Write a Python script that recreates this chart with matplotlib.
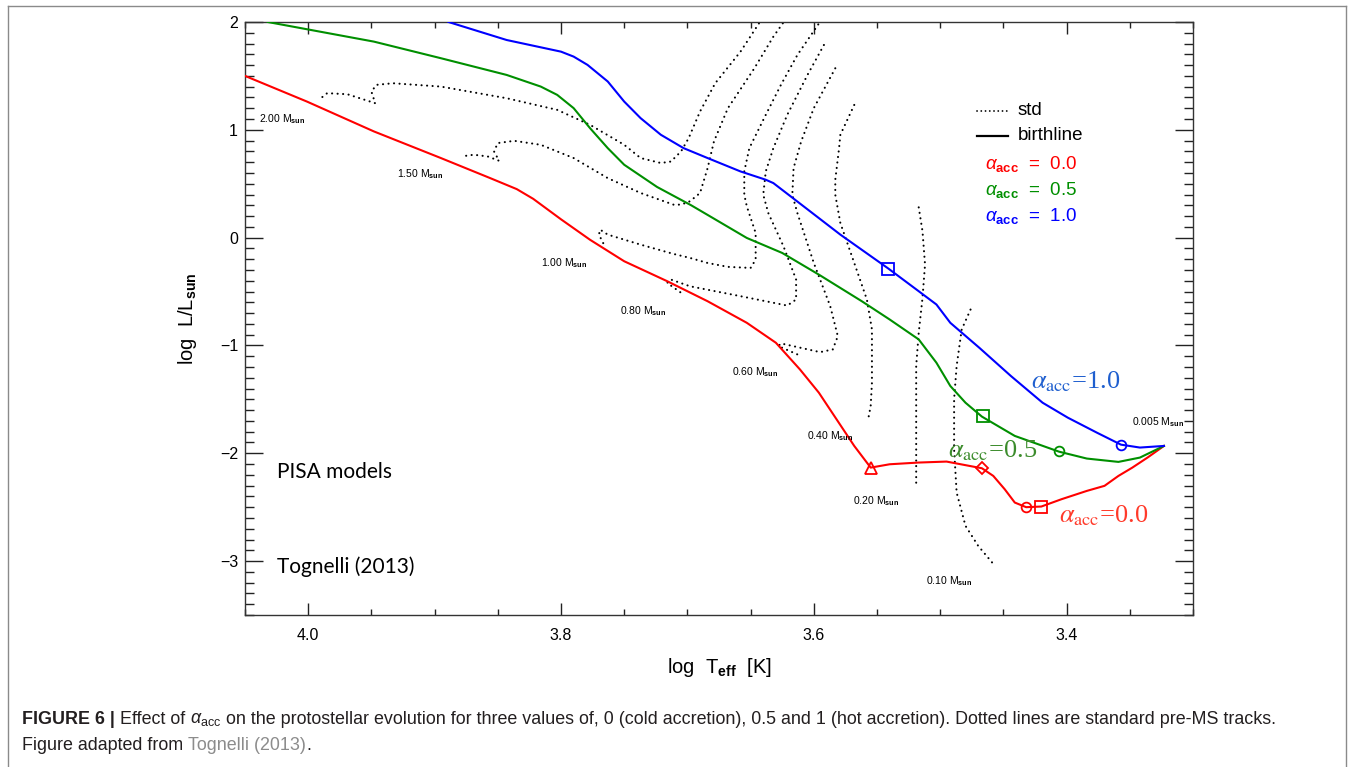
import numpy as np
import matplotlib
matplotlib.use("Agg")
import matplotlib.pyplot as plt
from matplotlib.ticker import MultipleLocator
from matplotlib.lines import Line2D

plt.rcParams["font.family"] = ["Liberation Sans", "DejaVu Sans"]
plt.rcParams["mathtext.fontset"] = "custom"
plt.rcParams["mathtext.rm"] = "Liberation Sans"
plt.rcParams["mathtext.it"] = "Liberation Sans:italic"
plt.rcParams["mathtext.bf"] = "Liberation Sans:bold"

# ── Birthlines (log Teff, log L) ──────────────────────────────────────────────
red_T = [4.050, 4.001, 3.948, 3.895, 3.856, 3.835, 3.822, 3.800, 3.777, 3.750, 3.716,
         3.684, 3.653, 3.630, 3.611, 3.596, 3.582, 3.568, 3.555, 3.540, 3.517,
         3.495, 3.467, 3.458, 3.449, 3.441, 3.432, 3.420, 3.404, 3.384, 3.370,
         3.359, 3.348, 3.336, 3.323]
red_L = [1.500, 1.262, 0.985, 0.738, 0.552, 0.450, 0.360, 0.170, -0.020, -0.219, -0.404,
         -0.590, -0.790, -0.975, -1.222, -1.438, -1.685, -1.932, -2.133, -2.102, -2.086,
         -2.077, -2.139, -2.210, -2.333, -2.457, -2.500, -2.494, -2.426, -2.349, -2.302,
         -2.210, -2.133, -2.040, -1.932]

green_T = [4.032, 3.948, 3.895, 3.843, 3.816, 3.803, 3.790, 3.777, 3.763, 3.750,
           3.724, 3.697, 3.681, 3.653, 3.625, 3.596, 3.562, 3.540, 3.517, 3.503,
           3.492, 3.480, 3.467, 3.441, 3.406, 3.384, 3.359, 3.342, 3.323]
green_L = [2.000, 1.818, 1.664, 1.509, 1.401, 1.324, 1.201, 1.015, 0.830, 0.676,
           0.470, 0.300, 0.190, -0.003, -0.142, -0.343, -0.590, -0.759, -0.944, -1.160,
           -1.376, -1.531, -1.660, -1.839, -1.985, -2.049, -2.080, -2.040, -1.932]

blue_T = [3.889, 3.843, 3.800, 3.790, 3.779, 3.763, 3.750, 3.737, 3.721, 3.703,
          3.684, 3.658, 3.638, 3.632, 3.620, 3.579, 3.541, 3.517, 3.503, 3.492,
          3.469, 3.444, 3.419, 3.399, 3.376, 3.357, 3.342, 3.323]
blue_L = [2.000, 1.833, 1.725, 1.679, 1.602, 1.448, 1.262, 1.108, 0.954, 0.830,
          0.738, 0.614, 0.537, 0.506, 0.398, 0.028, -0.287, -0.497, -0.620, -0.790,
          -1.022, -1.284, -1.531, -1.670, -1.809, -1.920, -1.947, -1.932]

# markers on the birthlines
red_mark_T = [3.555, 3.467, 3.432, 3.420]
red_mark_L = [-2.133, -2.139, -2.500, -2.494]
red_mark_sym = ["^", "D", "o", "s"]
green_mark_T = [3.466, 3.406]
green_mark_L = [-1.657, -1.983]
green_mark_sym = ["s", "o"]
blue_mark_T = [3.541, 3.357]
blue_mark_L = [-0.287, -1.920]
blue_mark_sym = ["s", "o"]

# ── Standard pre-MS tracks (dotted) ──────────────────────────────────────────
track_masses = ["2.00", "1.50", "1.00", "0.80", "0.60", "0.40", "0.20", "0.10"]
track_T = [
    [3.641, 3.658, 3.678, 3.690, 3.699, 3.705, 3.713, 3.721, 3.737, 3.750, 3.777,
     3.803, 3.843, 3.895, 3.933, 3.946, 3.950, 3.947, 3.969, 3.985, 3.990],
    [3.622, 3.632, 3.647, 3.668, 3.679, 3.684, 3.690, 3.698, 3.705, 3.711, 3.737,
     3.763, 3.790, 3.816, 3.837, 3.850, 3.853, 3.849, 3.858, 3.869, 3.879],
    [3.594, 3.613, 3.626, 3.638, 3.651, 3.655, 3.655, 3.653, 3.646, 3.646, 3.650,
     3.668, 3.684, 3.698, 3.711, 3.737, 3.763, 3.769, 3.770, 3.766],
    [3.592, 3.605, 3.621, 3.632, 3.638, 3.640, 3.636, 3.624, 3.614, 3.614, 3.621,
     3.658, 3.698, 3.713, 3.716, 3.703],
    [3.583, 3.600, 3.610, 3.616, 3.617, 3.613, 3.600, 3.587, 3.581, 3.585, 3.595,
     3.626, 3.628, 3.613],
    [3.568, 3.579, 3.580, 3.583, 3.583, 3.579, 3.568, 3.558, 3.554, 3.554, 3.555,
     3.557],
    [3.517, 3.514, 3.512, 3.514, 3.517, 3.519, 3.519, 3.519],
    [3.476, 3.483, 3.487, 3.489, 3.489, 3.487, 3.480, 3.470, 3.459],
]
track_L = [
    [2.030, 1.725, 1.432, 1.170, 0.923, 0.800, 0.706, 0.692, 0.738, 0.861, 1.046,
     1.185, 1.293, 1.401, 1.432, 1.417, 1.355, 1.247, 1.330, 1.340, 1.293],
    [2.030, 1.864, 1.571, 1.200, 0.892, 0.645, 0.414, 0.337, 0.306, 0.306, 0.414,
     0.552, 0.738, 0.861, 0.898, 0.877, 0.800, 0.713, 0.753, 0.769, 0.753],
    [2.020, 1.694, 1.417, 1.139, 0.830, 0.614, 0.398, 0.290, 0.043, -0.204, -0.281,
     -0.271, -0.235, -0.188, -0.151, -0.065, 0.028, 0.074, 0.028, -0.065],
    [1.787, 1.509, 1.139, 0.830, 0.614, 0.398, 0.228, -0.080, -0.389, -0.574, -0.630,
     -0.543, -0.451, -0.389, -0.420, -0.528],
    [1.571, 1.201, 0.892, 0.645, 0.398, 0.228, -0.235, -0.636, -0.914, -1.037, -1.062,
     -0.981, -1.006, -1.083],
    [1.231, 0.954, 0.830, 0.537, 0.398, 0.136, -0.235, -0.574, -0.852, -1.346, -1.562,
     -1.685],
    [0.281, 0.059, -0.250, -0.559, -0.883, -1.191, -1.654, -2.287],
    [-0.667, -0.852, -1.191, -1.500, -1.963, -2.364, -2.673, -2.858, -3.012],
]

# mass labels (last one belongs to the birthline end point)
label_masses = track_masses + ["0.005"]
label_pos = [(4.039, 1.10), (3.930, 0.59), (3.816, -0.234), (3.753, -0.682),
             (3.665, -1.247), (3.605, -1.84), (3.569, -2.447), (3.511, -3.182),
             (3.348, -1.71)]

RED, GREEN, BLUE = "#ff0000", "#008f00", "#0000ff"

# ── Figure ────────────────────────────────────────────────────────────────────
fig = plt.figure(figsize=(13.54, 7.67), dpi=100)
ax = fig.add_axes([245 / 1354, 1 - 615 / 767, 948 / 1354, 593 / 767])

DOTS = (0, (0.05, 2.6))
for T, L in zip(track_T, track_L):
    ax.plot(T, L, color="black", lw=1.5, linestyle=DOTS,
            dash_capstyle="round", zorder=2)

ax.plot(red_T, red_L, color=RED, lw=1.5, zorder=3)
ax.plot(green_T, green_L, color=GREEN, lw=1.5, zorder=3)
ax.plot(blue_T, blue_L, color=BLUE, lw=1.5, zorder=3)

for T, L, syms, col in [(red_mark_T, red_mark_L, red_mark_sym, RED),
                        (green_mark_T, green_mark_L, green_mark_sym, GREEN),
                        (blue_mark_T, blue_mark_L, blue_mark_sym, BLUE)]:
    for t, l, s in zip(T, L, syms):
        size = {"s": 8.5, "o": 7, "^": 9, "D": 6.5}[s]
        ax.plot(t, l, marker=s, ms=size, mfc="none", mec=col, mew=1.3,
                linestyle="none", zorder=4)

for m, (t, l) in zip(label_masses, label_pos):
    ax.text(t, l, m + r" M$_{\mathbf{sun}}$", fontsize=7.5, ha="left",
            va="center", color="black", zorder=5)

# curve annotations (serif, like the original overlay)
serif = dict(family="Liberation Serif", math_fontfamily="stix", fontsize=19,
             ha="left", va="center")
ax.text(3.428, -1.34, r"$\alpha_{\rm acc}$=1.0", color="#1f5fcf", **serif)
ax.text(3.494, -1.98, r"$\alpha_{\rm acc}$=0.5", color="#3c8c2c", **serif)
ax.text(3.406, -2.58, r"$\alpha_{\rm acc}$=0.0", color="#ff3a2a", **serif)

ax.text(4.025, -2.17, "PISA models", family="Lato", fontsize=15, va="center")
ax.text(4.025, -3.05, "Tognelli (2013)", family="Lato", fontsize=15, va="center")

# legend block
tr = ax.transAxes
ax.add_line(Line2D([0.772, 0.805], [0.850, 0.850], transform=tr, color="black",
                   lw=1.3, linestyle=(0, (0.05, 2.3)), dash_capstyle="round"))
ax.add_line(Line2D([0.772, 0.805], [0.808, 0.808], transform=tr, color="black",
                   lw=1.6))
ax.text(0.815, 0.850, "std", transform=tr, fontsize=13.5, va="center")
ax.text(0.815, 0.808, "birthline", transform=tr, fontsize=13.5, va="center")
for yy, val, col in [(0.761, "0.0", RED), (0.717, "0.5", GREEN), (0.673, "1.0", BLUE)]:
    ax.text(0.781, yy, r"$\alpha_{\mathbf{acc}}$  =  " + val, transform=tr,
            fontsize=13.5, va="center", color=col)

# axes cosmetics
ax.set_xlim(4.05, 3.30)
ax.set_ylim(-3.5, 2.0)
ax.xaxis.set_major_locator(MultipleLocator(0.2))
ax.xaxis.set_minor_locator(MultipleLocator(0.05))
ax.yaxis.set_major_locator(MultipleLocator(1))
ax.yaxis.set_minor_locator(MultipleLocator(0.1))
ax.tick_params(which="both", direction="in", top=True, right=True,
               color="#222222", width=1.0, labelsize=11.5)
ax.tick_params(axis="x", which="major", length=8.6, pad=9)
ax.tick_params(axis="x", which="minor", length=4.3)
ax.tick_params(axis="y", which="major", length=13, pad=5)
ax.tick_params(axis="y", which="minor", length=6.5)
ax.set_xticklabels([f"{v:.1f}" for v in ax.get_xticks()])
ax.set_yticklabels([f"{v:.0f}".replace("-", "\u2212") for v in ax.get_yticks()])
for sp in ax.spines.values():
    sp.set_color("#333333")
    sp.set_linewidth(1.0)

ax.set_xlabel(r"log  T$_{\mathbf{eff}}$  [K]", fontsize=14.5, labelpad=10)
ax.set_ylabel(r"log  L/L$_{\mathbf{sun}}$", fontsize=14.5, labelpad=15)

# outer frame of the figure panel
for xs, ys in [([8, 8], [0, 761]), ([1346, 1346], [0, 761]), ([8, 1346], [761, 761])]:
    fig.add_artist(Line2D([x / 1354 for x in xs], [y / 767 for y in ys],
                          transform=fig.transFigure, color="#8a8a8a", lw=1.0))

# caption
fig.canvas.draw()
renderer = fig.canvas.get_renderer()


def put_run(parts, x0, y0):
    x = x0
    for txt, kw in parts:
        t = fig.text(x, y0, txt, va="center", ha="left", fontsize=12.9, **kw)
        bb = t.get_window_extent(renderer=renderer)
        x += bb.width / fig.bbox.width


put_run([("FIGURE 6 | ", dict(weight="bold", color="#231f20")),
         ("Effect of ", dict(color="#231f20")),
         (r"$\alpha_{\rm acc}$", dict(color="#231f20")),
         (" on the protostellar evolution for three values of, 0 (cold accretion), "
          "0.5 and 1 (hot accretion). Dotted lines are standard pre-MS tracks.",
          dict(color="#231f20"))], 22 / 1354, 1 - 720 / 767)
put_run([("Figure adapted from ", dict(color="#231f20")),
         ("Tognelli (2013)", dict(color="#8c8c8c")),
         (".", dict(color="#231f20"))], 22 / 1354, 1 - 746 / 767)

fig.savefig("out.png", dpi=100)
